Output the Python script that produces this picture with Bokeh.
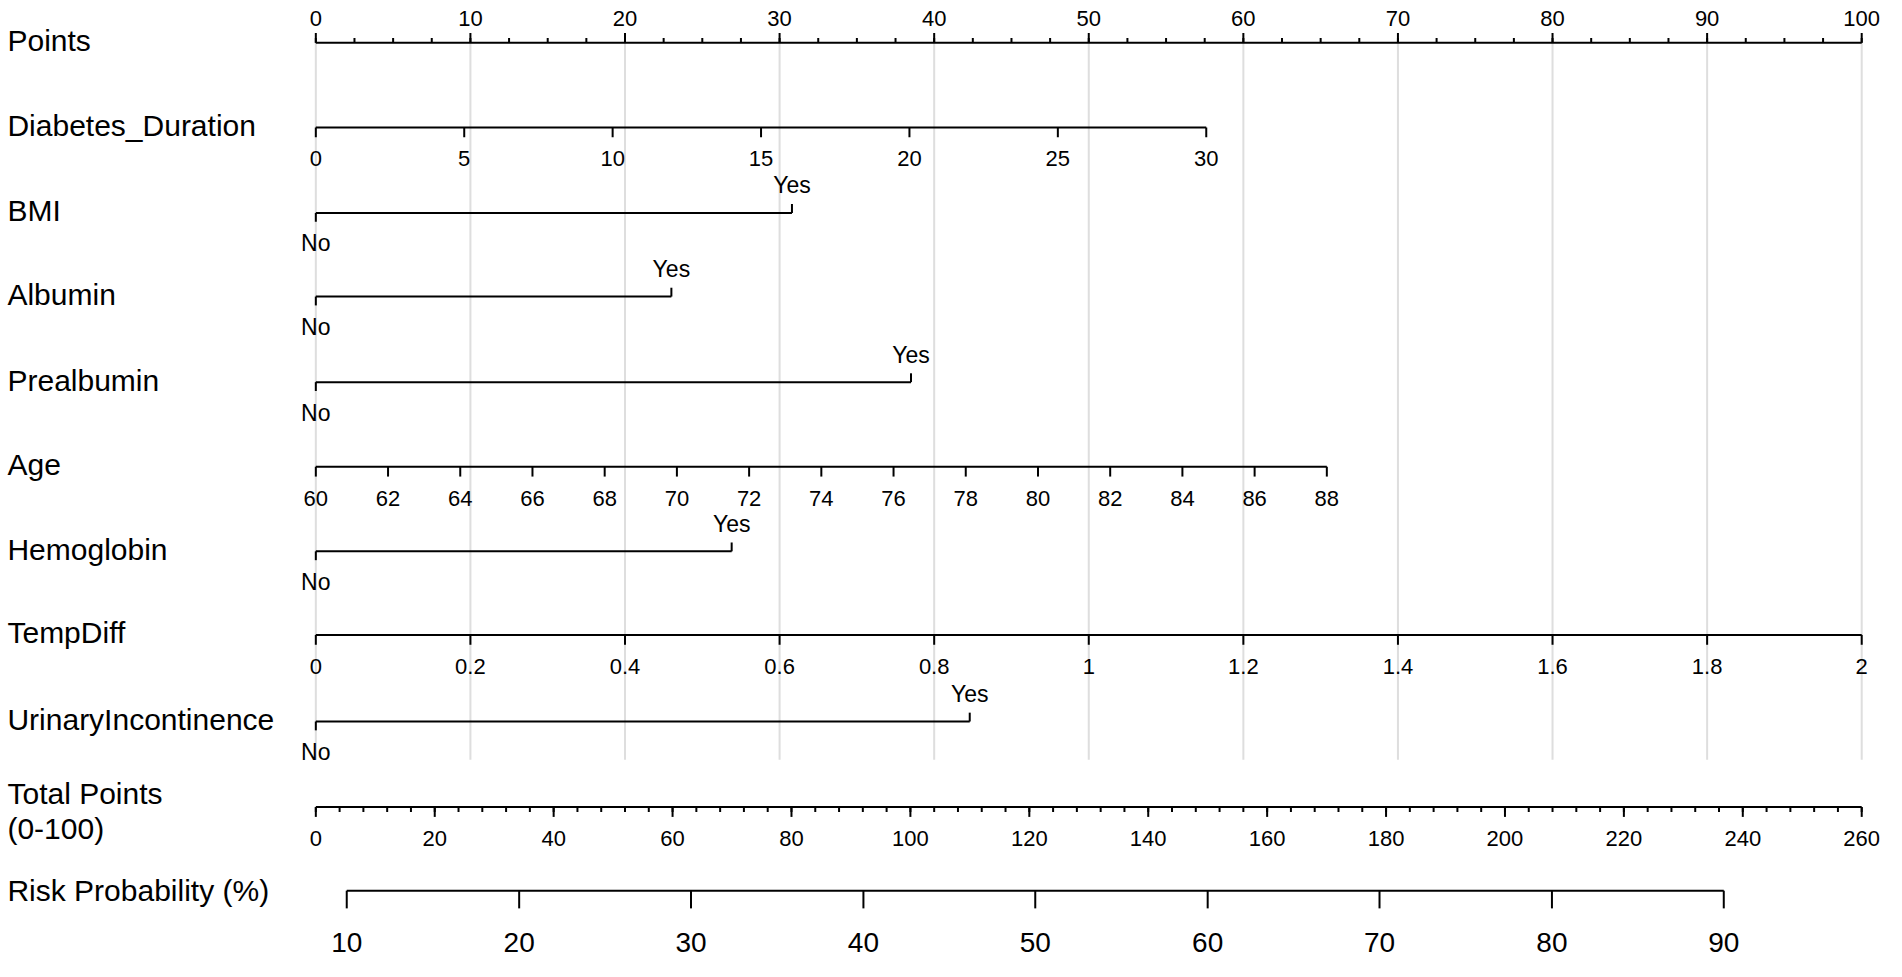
from bokeh.plotting import figure
from bokeh.models import Range1d
from bokeh.core.properties import value
from bokeh.embed import file_html
from bokeh.resources import INLINE

# ---------------- data ----------------
points_ticks = [0, 10, 20, 30, 40, 50, 60, 70, 80, 90, 100]
points_minor = [i * 2.5 for i in range(41)]

diab_ticks = [0, 5, 10, 15, 20, 25, 30]
diab_max_points = 57.6          # points at 30 years

bmi_yes_points = 30.8
albumin_yes_points = 23.0
prealbumin_yes_points = 38.5

age_ticks = [60, 62, 64, 66, 68, 70, 72, 74, 76, 78, 80, 82, 84, 86, 88]
age_max_points = 65.4           # points at 88 years

hemoglobin_yes_points = 26.9

temp_ticks = [0, 0.2, 0.4, 0.6, 0.8, 1.0, 1.2, 1.4, 1.6, 1.8, 2.0]
temp_labels = ["0", "0.2", "0.4", "0.6", "0.8", "1", "1.2", "1.4", "1.6", "1.8", "2"]
temp_max_points = 100.0         # points at 2

urinary_yes_points = 42.3

total_ticks = list(range(0, 261, 20))
total_minor = list(range(0, 261, 4))

risk_ticks = [10, 20, 30, 40, 50, 60, 70, 80, 90]
risk_total_points = [5.2, 34.2, 63.1, 92.1, 121.0, 150.0, 178.9, 207.9, 236.8]

labels = ["Points", "Diabetes_Duration", "BMI", "Albumin", "Prealbumin", "Age",
          "Hemoglobin", "TempDiff", "UrinaryIncontinence"]

# ---------------- layout ----------------
W, H = 1886, 961                # canvas size (fits the window)
RW, RH = 1902, 977              # layout grid in reference pixels
X0, X100 = 318.0, 1877.0        # grid position of 0 and 100 points
PPX = (X100 - X0) / 100.0
def px2pts(px):
    return (px - X0) / PPX

rows = {"Points": 43, "Diabetes_Duration": 129, "BMI": 216, "Albumin": 301,
        "Prealbumin": 388, "Age": 474, "Hemoglobin": 560, "TempDiff": 645,
        "UrinaryIncontinence": 733, "Total": 820, "Risk": 905}

FONT = value("Liberation Sans")
LW = 2

p = figure(width=W, height=H, output_backend="svg", toolbar_location=None,
           x_range=Range1d(px2pts(0), px2pts(RW)),
           y_range=Range1d(RH, 0), min_border=0)
p.extra_x_ranges = {"total": Range1d(px2pts(0) * 2.6, px2pts(RW) * 2.6)}
p.xaxis.visible = False
p.yaxis.visible = False
p.grid.visible = False
p.outline_line_color = None
p.background_fill_color = "white"
p.border_fill_color = "white"

def txt(xs, ys, texts, size, align="center", rng="default"):
    kw = {}
    if rng != "default":
        kw["x_range_name"] = rng
    p.text(x=xs, y=ys, text=texts, text_font=FONT, text_font_size=size,
           text_align=align, text_baseline="middle", text_color="black", **kw)

# vertical grid lines
p.segment(x0=points_ticks, y0=[rows["Points"]] * 11, x1=points_ticks,
          y1=[772] * 11, line_color="#dedede", line_width=2)

# left labels
label_x = px2pts(7)
for name in labels:
    txt([label_x], [rows[name] - 2], [name], "30px", align="left")
txt([label_x], [806], ["Total Points"], "30px", align="left")
txt([label_x], [842], ["(0-100)"], "30px", align="left")
txt([label_x], [rows["Risk"]], ["Risk Probability (%)"], "30px", align="left")

# Points axis (ticks upward)
yP = rows["Points"]
p.segment(x0=[0], y0=[yP], x1=[100], y1=[yP], line_color="black", line_width=LW)
p.segment(x0=points_minor, y0=[yP] * len(points_minor), x1=points_minor,
          y1=[yP - 5] * len(points_minor), line_color="black", line_width=LW)
p.segment(x0=points_ticks, y0=[yP] * 11, x1=points_ticks, y1=[yP - 10] * 11,
          line_color="black", line_width=LW)
txt(points_ticks, [18] * 11, [str(t) for t in points_ticks], "22px")

# continuous variables (ticks downward)
def cont_row(y, ticks, tick_labels, max_pts, vmin, vmax):
    xs = [(t - vmin) / (vmax - vmin) * max_pts for t in ticks]
    p.segment(x0=[xs[0]], y0=[y], x1=[xs[-1]], y1=[y], line_color="black", line_width=LW)
    p.segment(x0=xs, y0=[y] * len(xs), x1=xs, y1=[y + 10] * len(xs),
              line_color="black", line_width=LW)
    txt(xs, [y + 32] * len(xs), tick_labels, "22px")

cont_row(rows["Diabetes_Duration"], diab_ticks, [str(t) for t in diab_ticks],
         diab_max_points, 0, 30)
cont_row(rows["Age"], age_ticks, [str(t) for t in age_ticks], age_max_points, 60, 88)
cont_row(rows["TempDiff"], temp_ticks, temp_labels, temp_max_points, 0, 2)

# binary variables
def bin_row(y, yes_pts):
    p.segment(x0=[0], y0=[y], x1=[yes_pts], y1=[y], line_color="black", line_width=LW)
    p.segment(x0=[0, yes_pts], y0=[y, y], x1=[0, yes_pts], y1=[y + 9, y - 9],
              line_color="black", line_width=LW)
    txt([yes_pts], [y - 28], ["Yes"], "23px")
    txt([0], [y + 31], ["No"], "23px")

bin_row(rows["BMI"], bmi_yes_points)
bin_row(rows["Albumin"], albumin_yes_points)
bin_row(rows["Prealbumin"], prealbumin_yes_points)
bin_row(rows["Hemoglobin"], hemoglobin_yes_points)
bin_row(rows["UrinaryIncontinence"], urinary_yes_points)

# Total points axis
yT = rows["Total"]
p.segment(x0=[0], y0=[yT], x1=[260], y1=[yT], line_color="black", line_width=LW,
          x_range_name="total")
p.segment(x0=total_minor, y0=[yT] * len(total_minor), x1=total_minor,
          y1=[yT + 5] * len(total_minor), line_color="black", line_width=LW,
          x_range_name="total")
p.segment(x0=total_ticks, y0=[yT] * len(total_ticks), x1=total_ticks,
          y1=[yT + 10] * len(total_ticks), line_color="black", line_width=LW,
          x_range_name="total")
txt(total_ticks, [yT + 32] * len(total_ticks), [str(t) for t in total_ticks], "22px",
    rng="total")

# Risk probability axis
yR = rows["Risk"]
p.segment(x0=[risk_total_points[0]], y0=[yR], x1=[risk_total_points[-1]], y1=[yR],
          line_color="black", line_width=LW, x_range_name="total")
p.segment(x0=risk_total_points, y0=[yR] * len(risk_ticks), x1=risk_total_points,
          y1=[yR + 18] * len(risk_ticks), line_color="black", line_width=LW,
          x_range_name="total")
txt(risk_total_points, [yR + 53] * len(risk_ticks), [str(t) for t in risk_ticks],
    "28px", rng="total")

open("out.html", "w").write(file_html(p, INLINE))
